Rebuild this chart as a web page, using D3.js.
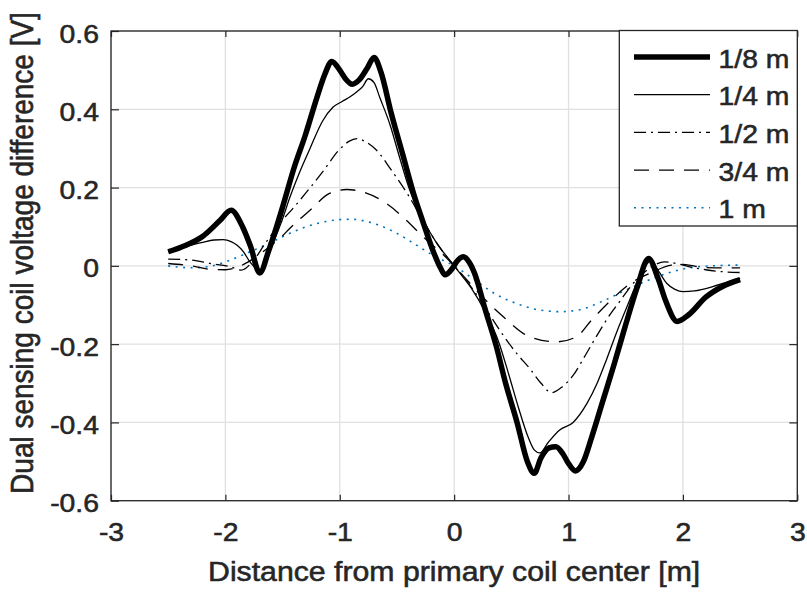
<!DOCTYPE html>
<html>
<head>
<meta charset="utf-8">
<script src="https://cdn.jsdelivr.net/npm/d3@7"></script>
<style>
  html, body { margin: 0; padding: 0; background: #fff; }
  svg { display: block; }
  text { font-family: "Liberation Sans", Arial, Helvetica, sans-serif; fill: #262626;
         stroke: #262626; stroke-width: 0.55px; }
</style>
</head>
<body>
<svg id="chart" width="807" height="592"></svg>
<script>
// Tick values
const xTicks = [-3, -2, -1, 0, 1, 2, 3];
const yTicks = [-0.6, -0.4, -0.2, 0, 0.2, 0.4, 0.6];

// Legend labels (spacing between sensing coils)
const seriesNames = ["1/8 m", "1/4 m", "1/2 m", "3/4 m", "1 m"];

// 1/8 m
const x8 = [-2.5,-2.35,-2.2,-2.05,-1.95,-1.85,-1.78,-1.70,-1.62,-1.5,-1.4,-1.3,-1.2,-1.13,-1.07,-1.0,-0.95,-0.89,-0.83,-0.76,-0.70,-0.64,-0.55,-0.45,-0.35,-0.27,-0.18,-0.12,-0.08,-0.02,0.02,0.08,0.13,0.18,0.27,0.37,0.45,0.55,0.64,0.70,0.76,0.83,0.89,0.95,1.0,1.06,1.13,1.2,1.3,1.4,1.5,1.6,1.70,1.78,1.85,1.95,2.05,2.2,2.35,2.5];
const y8 = [0.036,0.052,0.075,0.115,0.142,0.10,0.05,-0.018,0.04,0.15,0.25,0.335,0.43,0.49,0.522,0.50,0.478,0.464,0.475,0.505,0.532,0.495,0.39,0.285,0.18,0.11,0.035,-0.005,-0.023,-0.008,0.01,0.023,0.01,-0.02,-0.11,-0.207,-0.30,-0.40,-0.50,-0.53,-0.49,-0.465,-0.462,-0.48,-0.505,-0.524,-0.50,-0.44,-0.345,-0.25,-0.15,-0.055,0.019,-0.03,-0.09,-0.142,-0.125,-0.08,-0.052,-0.035];

// 1/4 m
const x4 = [-2.5,-2.4,-2.3,-2.2,-2.1,-2.02,-1.95,-1.9,-1.84,-1.79,-1.74,-1.71,-1.65,-1.58,-1.5,-1.44,-1.35,-1.26,-1.15,-1.06,-0.98,-0.91,-0.85,-0.8,-0.75,-0.7,-0.65,-0.56,-0.48,-0.39,-0.27,-0.15,-0.04,0.04,0.15,0.27,0.39,0.48,0.56,0.65,0.70,0.75,0.82,0.92,1.04,1.16,1.25,1.33,1.42,1.51,1.62,1.72,1.79,1.86,1.93,2.0,2.1,2.26,2.4,2.5];
const y4 = [0.036,0.044,0.053,0.060,0.066,0.067,0.062,0.053,0.035,0.012,-0.005,-0.015,0.015,0.06,0.12,0.172,0.24,0.30,0.37,0.405,0.42,0.432,0.445,0.458,0.478,0.468,0.43,0.36,0.28,0.195,0.117,0.057,0.015,-0.015,-0.057,-0.117,-0.195,-0.28,-0.36,-0.44,-0.47,-0.478,-0.452,-0.42,-0.40,-0.352,-0.30,-0.241,-0.17,-0.105,-0.03,0.013,-0.015,-0.045,-0.06,-0.066,-0.064,-0.053,-0.04,-0.032];

// 1/2 m
const x2 = [-2.5,-2.3,-2.13,-1.96,-1.86,-1.77,-1.65,-1.5,-1.4,-1.3,-1.15,-1.0,-0.92,-0.85,-0.78,-0.68,-0.55,-0.4,-0.3,-0.2,-0.1,0,0.1,0.2,0.3,0.4,0.55,0.66,0.76,0.85,0.94,1.04,1.14,1.24,1.35,1.45,1.55,1.65,1.75,1.84,1.94,2.05,2.2,2.35,2.5];
const y2 = [0.017,0.015,0.006,-0.002,-0.011,0.008,0.058,0.117,0.15,0.185,0.24,0.298,0.318,0.325,0.318,0.296,0.245,0.18,0.13,0.08,0.037,0,-0.035,-0.075,-0.12,-0.165,-0.225,-0.262,-0.30,-0.324,-0.31,-0.28,-0.232,-0.182,-0.13,-0.09,-0.05,-0.02,0.002,0.01,0.006,-0.002,-0.01,-0.015,-0.017];

// 3/4 m
const x34 = [-2.5,-2.3,-2.13,-2.0,-1.9,-1.8,-1.7,-1.6,-1.5,-1.44,-1.26,-1.09,-0.94,-0.8,-0.59,-0.42,-0.27,-0.1,0,0.1,0.25,0.43,0.66,0.9,1.07,1.2,1.37,1.54,1.72,1.9,2.0,2.18,2.35,2.5];
const y34 = [0.006,0.0,-0.009,-0.01,-0.004,0.01,0.03,0.052,0.077,0.095,0.142,0.185,0.195,0.189,0.159,0.117,0.074,0.03,0,-0.032,-0.08,-0.13,-0.181,-0.194,-0.181,-0.139,-0.088,-0.045,-0.018,0.002,0.004,-0.004,-0.005,-0.005];

// 1 m
const x1 = [-2.5,-2.3,-2.15,-2.0,-1.8,-1.6,-1.4,-1.2,-1.0,-0.9,-0.7,-0.5,-0.33,-0.18,0,0.18,0.35,0.58,0.75,0.93,1.1,1.3,1.5,1.74,2.0,2.25,2.5];
const y1 = [0.0,-0.005,-0.002,0.01,0.034,0.06,0.088,0.108,0.118,0.119,0.108,0.083,0.053,0.026,0,-0.036,-0.07,-0.1,-0.113,-0.117,-0.112,-0.09,-0.062,-0.032,-0.008,0.0,0.002];

// Line appearance per series
const styles = {
  "1/8 m": { stroke: "#000", width: 5.5, dash: null },
  "1/4 m": { stroke: "#000", width: 1.3, dash: null },
  "1/2 m": { stroke: "#000", width: 1.3, dash: "12,5,2,5" },
  "3/4 m": { stroke: "#000", width: 1.3, dash: "15,10" },
  "1 m":   { stroke: "#0072BD", width: 1.6, dash: "2,5.5" }
};

const series = [
  { name: seriesNames[0], xs: x8, ys: y8 },
  { name: seriesNames[1], xs: x4, ys: y4 },
  { name: seriesNames[2], xs: x2, ys: y2 },
  { name: seriesNames[3], xs: x34, ys: y34 },
  { name: seriesNames[4], xs: x1, ys: y1 }
];

const SX = 1.09;   // horizontal glyph stretch
const svg = d3.select("#chart");
const plotL = 111, plotR = 797.3, plotT = 31, plotB = 500.7;

const x = d3.scaleLinear().domain([-3, 3]).range([plotL, plotR]);
const y = d3.scaleLinear().domain([-0.6, 0.6]).range([plotB, plotT]);

// grid
const grid = svg.append("g").attr("stroke", "#e0e0e0").attr("stroke-width", 1.3);
grid.selectAll("line.gx").data(xTicks).join("line").attr("class", "gx")
  .attr("x1", d => x(d)).attr("x2", d => x(d)).attr("y1", plotT).attr("y2", plotB);
grid.selectAll("line.gy").data(yTicks).join("line").attr("class", "gy")
  .attr("y1", d => y(d)).attr("y2", d => y(d)).attr("x1", plotL).attr("x2", plotR);

// series
const line = d3.line().x(d => x(d[0])).y(d => y(d[1])).curve(d3.curveMonotoneX);
svg.append("g").selectAll("path").data(series.slice().reverse()).join("path")
  .attr("d", s => line(s.xs.map((v, i) => [v, s.ys[i]])))
  .attr("fill", "none")
  .attr("stroke", s => styles[s.name].stroke)
  .attr("stroke-width", s => styles[s.name].width)
  .attr("stroke-dasharray", s => styles[s.name].dash)
  .attr("stroke-linejoin", "round");

// axes
const fmtX = d => String(d);
const fmtY = d => d === 0 ? "0" : d.toFixed(1);

function styleAxis(g) {
  g.select(".domain").remove();
  g.selectAll(".tick line").attr("stroke", "#262626").attr("stroke-width", 1.2);
  g.attr("font-family", null).attr("font-size", null);
  g.selectAll("text").attr("fill", "#262626").style("font-size", "26px");
}

const gx = svg.append("g").attr("transform", `translate(0,${plotB})`)
  .call(d3.axisBottom(x).tickValues(xTicks).tickSize(-6).tickFormat(fmtX));
styleAxis(gx);
gx.selectAll("text").attr("y", 40.8).attr("dy", null).attr("transform", `scale(${SX},1)`);

const gxt = svg.append("g").attr("transform", `translate(0,${plotT})`)
  .call(d3.axisTop(x).tickValues(xTicks).tickSize(-6).tickFormat(""));
styleAxis(gxt);

const gy = svg.append("g").attr("transform", `translate(${plotL},0)`)
  .call(d3.axisLeft(y).tickValues(yTicks).tickSize(-8).tickFormat(fmtY));
styleAxis(gy);
gy.selectAll("text").attr("x", 0).attr("dy", null).attr("y", 11)
  .attr("transform", `translate(-12,0) scale(${SX},1)`);

const gyr = svg.append("g").attr("transform", `translate(${plotR},0)`)
  .call(d3.axisRight(y).tickValues(yTicks).tickSize(-8).tickFormat(""));
styleAxis(gyr);

// axes box
svg.append("rect")
  .attr("x", plotL).attr("y", plotT).attr("width", plotR - plotL).attr("height", plotB - plotT)
  .attr("fill", "none").attr("stroke", "#262626").attr("stroke-width", 1.3);

// axis titles
svg.append("text")
  .attr("transform", `translate(${(plotL + plotR) / 2},581) scale(1.12,1)`)
  .attr("text-anchor", "middle").style("font-size", "27px")
  .text("Distance from primary coil center [m]");

svg.append("text")
  .attr("transform", `translate(33,253) scale(1.1,1) rotate(-90)`)
  .attr("text-anchor", "middle").style("font-size", "28px")
  .text("Dual sensing coil voltage difference [V]");

// legend
const lg = svg.append("g");
lg.append("rect")
  .attr("x", 619.3).attr("y", 30.5).attr("width", plotR - 619.3).attr("height", 226 - 30.5)
  .attr("fill", "#fff").attr("stroke", "#262626").attr("stroke-width", 1.3);
const rowY = i => 57 + i * 37.7;
const rows = lg.selectAll("g.row").data(seriesNames).join("g").attr("class", "row");
rows.append("line")
  .attr("x1", 634).attr("x2", 710)
  .attr("y1", (d, i) => rowY(i)).attr("y2", (d, i) => rowY(i))
  .attr("stroke", d => styles[d].stroke)
  .attr("stroke-width", d => styles[d].width)
  .attr("stroke-dasharray", d => styles[d].dash);
rows.append("text")
  .attr("transform", (d, i) => `translate(718.5,${rowY(i) + 10.5}) scale(${SX},1)`)
  .style("font-size", "26px")
  .text(d => d);
</script>
</body>
</html>
